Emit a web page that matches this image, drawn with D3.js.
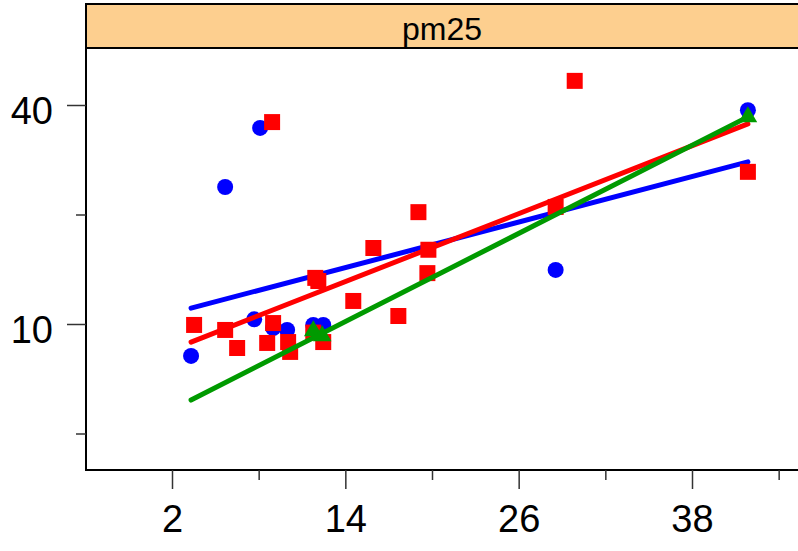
<!DOCTYPE html>
<html>
<head>
<meta charset="utf-8">
<script src="https://cdn.jsdelivr.net/npm/d3@7"></script>
<style>
  html, body { margin: 0; padding: 0; background: #fff; }
  svg { display: block; font-family: "Liberation Sans", Arial, sans-serif; }
</style>
</head>
<body>
<svg id="chart" width="798" height="551"></svg>
<script>
// ---- data ----
const stripLabel = "pm25";
const xMajorTicks = [2, 14, 26, 38];
const xMinorTicks = [8, 20, 32, 44];
const yMajorTicks = [10, 40];
const yMinorTicks = [5, 20];

const blueX = [3.32, 5.68, 8.10, 7.69, 9.0, 9.97, 11.78, 12.47, 28.56, 41.87];
const blueY = [8.17, 23.8, 34.6, 10.3, 9.75, 9.63, 9.94, 9.94, 14.08, 38.7];

const redX = [3.53, 5.68, 6.51, 8.93, 9.0, 8.59, 10.04, 10.18, 11.92, 12.13, 11.78, 12.47, 14.55, 15.94, 17.67, 19.06, 19.75, 19.68, 28.56, 29.88, 41.87];
const redY = [9.94, 9.63, 8.59, 35.9, 10.06, 8.87, 8.92, 8.38, 13.39, 13.13, 9.47, 8.92, 11.57, 16.18, 10.52, 20.3, 16.0, 13.8, 20.98, 46.6, 26.2];

const greenX = [11.78, 12.40, 41.87];
const greenY = [9.57, 9.27, 37.1];

const fitX = [3.32, 41.87];
const blueFit = [11.06, 27.9];
const redFit = [8.92, 35.5];
const greenFit = [6.18, 37.1];

// ---- layout ----
const svg = d3.select("#chart");
const panel = { left: 86, top: 48, bottom: 470, right: 830 };
const strip = { top: 4, bottom: 48 };

const x = d3.scaleLinear().domain([2, 38]).range([172, 692]);
const y = d3.scaleLog().domain([10, 40]).range([324, 105]);

const colors = { blue: "#0000ff", red: "#ff0000", green: "#009a00" };

// strip
svg.append("rect")
  .attr("x", panel.left).attr("y", strip.top)
  .attr("width", panel.right - panel.left).attr("height", strip.bottom - strip.top)
  .attr("fill", "#fdcf8f").attr("stroke", "#000").attr("stroke-width", 2);
svg.append("text")
  .attr("x", 442).attr("y", 40)
  .attr("text-anchor", "middle")
  .attr("font-size", 32)
  .text(stripLabel);

// panel
svg.append("rect")
  .attr("x", panel.left).attr("y", panel.top)
  .attr("width", panel.right - panel.left).attr("height", panel.bottom - panel.top)
  .attr("fill", "#fff").attr("stroke", "#000").attr("stroke-width", 2);

// clip
svg.append("clipPath").attr("id", "clip")
  .append("rect")
  .attr("x", panel.left + 1).attr("y", panel.top + 1)
  .attr("width", panel.right - panel.left - 2).attr("height", panel.bottom - panel.top - 2);

// axes
const xAxisMajor = d3.axisBottom(x).tickValues(xMajorTicks).tickSize(19).tickPadding(16).tickFormat(d3.format("d"));
const xAxisMinor = d3.axisBottom(x).tickValues(xMinorTicks).tickSize(10).tickFormat("");
const yAxisMajor = d3.axisLeft(y).tickValues(yMajorTicks).tickSize(19).tickPadding(14).tickFormat(d3.format("d"));
const yAxisMinor = d3.axisLeft(y).tickValues(yMinorTicks).tickSize(10).tickFormat("");

function styleAxis(g) {
  g.select(".domain").remove();
  g.selectAll(".tick line").attr("stroke", "#333").attr("stroke-width", 1.5);
  g.selectAll(".tick text").attr("fill", "#000").attr("font-size", 38)
    .attr("font-family", "'Liberation Sans', Arial, sans-serif");
}

svg.append("g").attr("transform", `translate(0,${panel.bottom})`).call(xAxisMajor).call(styleAxis)
  .selectAll(".tick text").attr("dy", "0.71em");
svg.append("g").attr("transform", `translate(0,${panel.bottom})`).call(xAxisMinor).call(styleAxis);
svg.append("g").attr("transform", `translate(${panel.left},0)`).call(yAxisMajor).call(styleAxis)
  .selectAll(".tick text").attr("dy", "0.48em");
svg.append("g").attr("transform", `translate(${panel.left},0)`).call(yAxisMinor).call(styleAxis);

// plot area
const plot = svg.append("g").attr("clip-path", "url(#clip)");
const line = d3.line().x(d => x(d[0])).y(d => y(d[1]));

function drawGroup(xs, ys, fit, color, symbolType, size) {
  const pts = xs.map((v, i) => [v, ys[i]]);
  plot.append("g").selectAll("path")
    .data(pts).join("path")
    .attr("transform", d => `translate(${x(d[0])},${y(d[1])})`)
    .attr("d", d3.symbol().type(symbolType).size(size))
    .attr("fill", color);
  plot.append("path")
    .datum(fitX.map((v, i) => [v, fit[i]]))
    .attr("d", line)
    .attr("fill", "none")
    .attr("stroke", color)
    .attr("stroke-width", 5)
    .attr("stroke-linecap", "round");
}

drawGroup(blueX, blueY, blueFit, colors.blue, d3.symbolCircle, Math.PI * 8 * 8);
drawGroup(redX, redY, redFit, colors.red, d3.symbolSquare, 16 * 16);
drawGroup(greenX, greenY, greenFit, colors.green, d3.symbolTriangle, 150);
</script>
</body>
</html>
